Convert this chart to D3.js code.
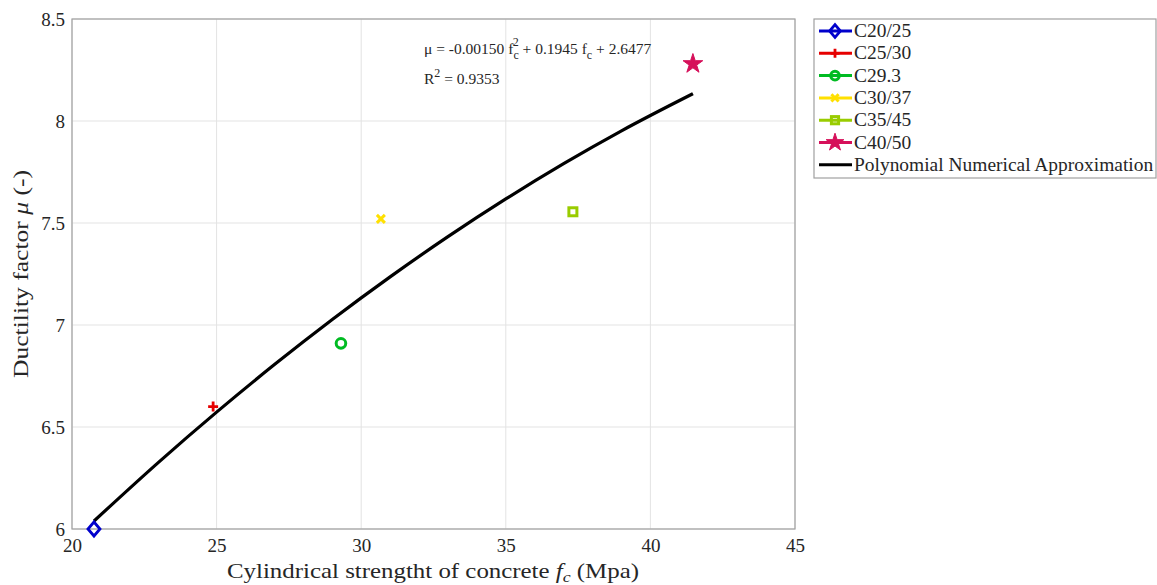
<!DOCTYPE html>
<html lang="en">
<head>
<meta charset="UTF-8">
<title>Ductility factor vs concrete strength</title>
<script src="https://d3js.org/d3.v7.min.js"></script>
<style>
  body { margin: 0; background: #fff; }
  text { font-family: "Liberation Serif", "DejaVu Serif", serif; fill: #262626; }
</style>
</head>
<body>
<div id="chart"></div>
<script>
// concrete classes (measured points)
const classes = ["C20/25", "C25/30", "C29.3", "C30/37", "C35/45", "C40/50"];
const fcValues = [20.76, 24.88, 29.30, 30.68, 37.32, 41.47];
const muValues = [6.00, 6.60, 6.91, 7.52, 7.555, 8.28];
const colors = ["#0000cc", "#e60000", "#00bb22", "#ffe000", "#99cc00", "#d6105a"];
const shapes = ["diamond", "plus", "circle", "cross", "square", "star"];

// polynomial approximation curve
const curveFc = [20.76, 23, 25, 27, 29, 31, 33, 35, 37, 39, 41.47];
const curveMu = [6.039, 6.328, 6.573, 6.806, 7.027, 7.236, 7.433, 7.618, 7.791, 7.952, 8.134];

const xTicks = [20, 25, 30, 35, 40, 45];
const yTicks = [6, 6.5, 7, 7.5, 8, 8.5];

const W = 1157, H = 585;
const margin = { left: 72, top: 19, right: 362, bottom: 56 };
const pw = W - margin.left - margin.right;
const ph = H - margin.top - margin.bottom;

const svg = d3.select("#chart").append("svg")
  .attr("width", W).attr("height", H);

const x = d3.scaleLinear().domain([20, 45]).range([margin.left, margin.left + pw]);
const y = d3.scaleLinear().domain([6, 8.5]).range([margin.top + ph, margin.top]);

// stretch a text to a wider, Computer-Modern-like width
function widen(sel, k) {
  sel.each(function () {
    const len = this.getComputedTextLength();
    d3.select(this).attr("textLength", len * k).attr("lengthAdjust", "spacingAndGlyphs");
  });
}

// grid
svg.append("g").selectAll("line").data(xTicks).join("line")
  .attr("x1", d => x(d)).attr("x2", d => x(d))
  .attr("y1", margin.top).attr("y2", margin.top + ph)
  .attr("stroke", "#e3e3e3").attr("stroke-width", 1);
svg.append("g").selectAll("line").data(yTicks).join("line")
  .attr("x1", margin.left).attr("x2", margin.left + pw)
  .attr("y1", d => y(d)).attr("y2", d => y(d))
  .attr("stroke", "#e3e3e3").attr("stroke-width", 1);

// axes
const xAxis = svg.append("g")
  .attr("transform", `translate(0,${margin.top + ph})`)
  .call(d3.axisBottom(x).tickValues(xTicks).tickSize(0).tickPadding(10));
const yAxis = svg.append("g")
  .attr("transform", `translate(${margin.left},0)`)
  .call(d3.axisLeft(y).tickValues(yTicks).tickSize(0).tickPadding(7)
    .tickFormat(d3.format("~g")));
[xAxis, yAxis].forEach(g => {
  g.select(".domain").remove();
  g.selectAll("text").style("font-size", "19px").attr("fill", "#262626");
});

// box
svg.append("rect")
  .attr("x", margin.left).attr("y", margin.top)
  .attr("width", pw).attr("height", ph)
  .attr("fill", "none").attr("stroke", "#a0a0a0").attr("stroke-width", 1.2);

// fitted curve
const curvePts = curveFc.map((f, i) => [f, curveMu[i]]);
svg.append("path")
  .datum(curvePts)
  .attr("fill", "none").attr("stroke", "#000").attr("stroke-width", 3.2)
  .attr("d", d3.line().x(d => x(d[0])).y(d => y(d[1])).curve(d3.curveMonotoneX));

// marker drawing
function drawMarker(g, shape, color, cx, cy, s) {
  if (shape === "diamond") {
    g.append("path")
      .attr("d", `M${cx},${cy - 7 * s}L${cx + 6 * s},${cy}L${cx},${cy + 7 * s}L${cx - 6 * s},${cy}Z`)
      .attr("fill", "none").attr("stroke", color).attr("stroke-width", 2.8);
  } else if (shape === "plus") {
    g.append("path")
      .attr("d", `M${cx - 5 * s},${cy}H${cx + 5 * s}M${cx},${cy - 5 * s}V${cy + 5 * s}`)
      .attr("stroke", color).attr("stroke-width", 2.8);
  } else if (shape === "circle") {
    g.append("circle").attr("cx", cx).attr("cy", cy).attr("r", 4.8 * s)
      .attr("fill", "none").attr("stroke", color).attr("stroke-width", 3);
  } else if (shape === "cross") {
    g.append("path")
      .attr("d", `M${cx - 4 * s},${cy - 4 * s}L${cx + 4 * s},${cy + 4 * s}M${cx - 4 * s},${cy + 4 * s}L${cx + 4 * s},${cy - 4 * s}`)
      .attr("stroke", color).attr("stroke-width", 3);
  } else if (shape === "square") {
    g.append("rect").attr("x", cx - 4 * s).attr("y", cy - 4 * s)
      .attr("width", 8 * s).attr("height", 8 * s)
      .attr("fill", "none").attr("stroke", color).attr("stroke-width", 3);
  } else if (shape === "star") {
    g.append("path")
      .attr("d", d3.symbol(d3.symbolStar, 120 * s * s)())
      .attr("transform", `translate(${cx},${cy})`)
      .attr("fill", color).attr("stroke", color).attr("stroke-width", 1);
  }
}

// data points
const pts = svg.append("g");
classes.forEach((c, i) => {
  drawMarker(pts, shapes[i], colors[i], x(fcValues[i]), y(muValues[i]), 1);
});

// equation annotation
const ann = svg.append("g").style("font-size", "15.5px");
const eq = ann.append("text").attr("x", 424).attr("y", 54);
eq.append("tspan").text("\u03bc = -0.00150 f");
eq.append("tspan").attr("dy", 5).style("font-size", "12px").text("c");
eq.append("tspan").attr("dx", -6).attr("dy", -13).style("font-size", "12px").text("2");
eq.append("tspan").attr("dy", 8).text(" + 0.1945 f");
eq.append("tspan").attr("dy", 5).style("font-size", "12px").text("c");
eq.append("tspan").attr("dy", -5).text(" + 2.6477");
const r2 = ann.append("text").attr("x", 424).attr("y", 84);
r2.append("tspan").text("R");
r2.append("tspan").attr("dy", -7).style("font-size", "12px").text("2");
r2.append("tspan").attr("dy", 7).text(" = 0.9353");

// axis labels
const xl = svg.append("text")
  .attr("x", 433).attr("y", 578)
  .attr("text-anchor", "middle").style("font-size", "21px");
xl.append("tspan").text("Cylindrical strengtht of concrete ");
xl.append("tspan").style("font-style", "italic").text("f");
xl.append("tspan").attr("dy", 4).style("font-style", "italic").style("font-size", "15px").text("c");
xl.append("tspan").attr("dy", -4).text(" (Mpa)");
xl.attr("textLength", 412).attr("lengthAdjust", "spacingAndGlyphs");

const yl = svg.append("text")
  .attr("transform", `translate(28,${margin.top + ph / 2}) rotate(-90)`)
  .attr("text-anchor", "middle").style("font-size", "21px");
yl.append("tspan").text("Ductility factor ");
yl.append("tspan").style("font-style", "italic").text("\u03bc");
yl.append("tspan").text(" (-)");
yl.attr("textLength", 208).attr("lengthAdjust", "spacingAndGlyphs");

// legend
const lgX = 814, lgY = 19, lgW = 342, lgH = 159;
const legend = svg.append("g");
legend.append("rect")
  .attr("x", lgX).attr("y", lgY).attr("width", lgW).attr("height", lgH)
  .attr("fill", "#fff").attr("stroke", "#a0a0a0").attr("stroke-width", 1.2);
const legendNames = classes.concat(["Polynomial Numerical Approximation"]);
const legendColors = colors.concat(["#000"]);
legendNames.forEach((name, i) => {
  const ly = lgY + 12 + i * 22.3;
  legend.append("line")
    .attr("x1", lgX + 5).attr("x2", lgX + 38)
    .attr("y1", ly).attr("y2", ly)
    .attr("stroke", legendColors[i]).attr("stroke-width", 3);
  if (i < shapes.length) drawMarker(legend, shapes[i], colors[i], lgX + 21, ly, 0.9);
  legend.append("text")
    .attr("x", lgX + 40).attr("y", ly + 6)
    .style("font-size", "18px")
    .text(name)
    .call(widen, 1.08);
});
</script>
</body>
</html>
